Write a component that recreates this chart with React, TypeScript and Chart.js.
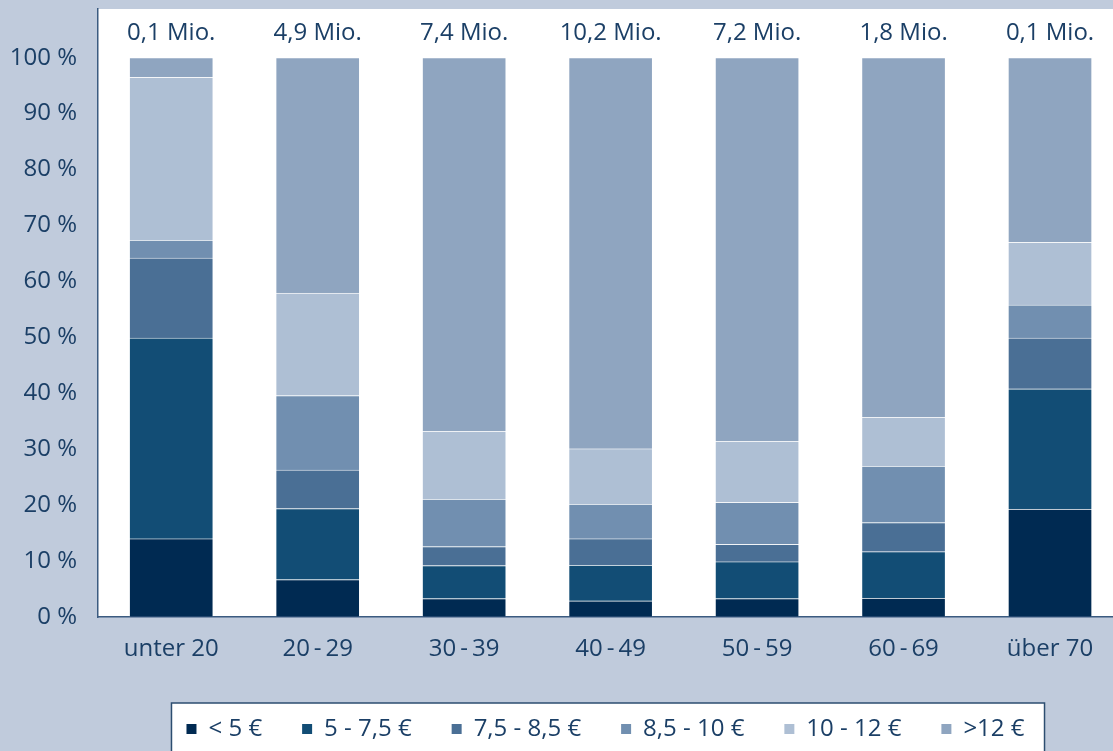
import { useEffect, useRef } from "react";
import { Chart, registerables } from "chart.js";

Chart.register(...registerables);

const categories = ["unter 20", "20\u2009-\u200929", "30\u2009-\u200939", "40\u2009-\u200949", "50\u2009-\u200959", "60\u2009-\u200969", "über 70"];
const totals = ["0,1 Mio.", "4,9 Mio.", "7,4 Mio.", "10,2 Mio.", "7,2 Mio.", "1,8 Mio.", "0,1 Mio."];
const seriesNames = ["< 5 €", "5 - 7,5 €", "7,5 - 8,5 €", "8,5 - 10 €", "10 - 12 €", ">12 €"];

const under5 = [14.0, 6.7, 3.3, 2.9, 3.3, 3.4, 19.3];
const from5to75 = [35.9, 12.7, 5.9, 6.4, 6.6, 8.3, 21.5];
const from75to85 = [14.3, 6.9, 3.4, 4.7, 3.1, 5.2, 9.1];
const from85to10 = [3.2, 13.3, 8.5, 6.2, 7.5, 10.1, 5.9];
const from10to12 = [29.1, 18.3, 12.1, 9.9, 10.9, 8.7, 11.2];
const over12 = [3.5, 42.1, 66.8, 69.9, 68.6, 64.3, 33.0];

const yTicks = [0, 10, 20, 30, 40, 50, 60, 70, 80, 90, 100];

const seriesValues = [under5, from5to75, from75to85, from85to10, from10to12, over12];
const seriesColors = ["#002a52", "#124d75", "#4a6f95", "#718fb0", "#aebfd4", "#8fa5c0"];

const TEXT = "#1b3f66";
const AXIS = "#3b5b80";
const FONT = "'Open Sans', 'Noto Sans', sans-serif";
const FS = 24;

export default function App() {
  const ref = useRef<HTMLCanvasElement | null>(null);

  useEffect(() => {
    if (!ref.current) return;

    const backgroundPlugin = {
      id: "bgPlugin",
      beforeDraw(chart: any) {
        const { ctx, chartArea } = chart;
        ctx.save();
        ctx.fillStyle = "#ffffff";
        ctx.fillRect(chartArea.left, chartArea.top, chartArea.right - chartArea.left, chartArea.bottom - chartArea.top);
        const boxes = chart.legend?.legendHitBoxes || [];
        if (boxes.length) {
          let minL = Infinity;
          let maxR = -Infinity;
          let top = Infinity;
          boxes.forEach((b: any) => {
            minL = Math.min(minL, b.left);
            maxR = Math.max(maxR, b.left + b.width);
            top = Math.min(top, b.top);
          });
          const x0 = minL - 15;
          const x1 = maxR + 20;
          const y0 = top - 14;
          const y1 = chart.height + 2;
          ctx.fillStyle = "#ffffff";
          ctx.fillRect(x0, y0, x1 - x0, y1 - y0);
          ctx.strokeStyle = "#2c4d70";
          ctx.lineWidth = 1.5;
          ctx.strokeRect(x0, y0, x1 - x0, y1 - y0);
        }
        ctx.restore();
      },
    };

    const totalsPlugin = {
      id: "totalsPlugin",
      afterDatasetsDraw(chart: any) {
        const { ctx } = chart;
        const xs = chart.scales.x;
        const ys = chart.scales.y;
        ctx.save();
        ctx.fillStyle = TEXT;
        ctx.font = `${FS}px ${FONT}`;
        ctx.textAlign = "center";
        ctx.textBaseline = "middle";
        totals.forEach((t, i) => {
          ctx.fillText(t, xs.getPixelForValue(i), ys.getPixelForValue(104.4));
        });
        ctx.restore();
      },
    };

    const chart = new Chart(ref.current, {
      type: "bar",
      data: {
        datasets: seriesNames.map((name, s) => ({
          label: name,
          data: seriesValues[s].map((v, i) => ({ x: i, y: v })),
          backgroundColor: seriesColors[s],
          borderColor: "rgba(255,255,255,0.22)",
          borderWidth: 1,
          barThickness: 84,
        })),
      },
      options: {
        animation: false,
        responsive: true,
        maintainAspectRatio: false,
        layout: { padding: { top: 9, left: 0, right: 0, bottom: 0 } },
        scales: {
          x: {
            type: "linear",
            stacked: true,
            offset: false,
            min: -0.5,
            max: 6.43,
            afterBuildTicks(scale: any) {
              scale.ticks = categories.map((_, i) => ({ value: i }));
            },
            afterFit(scale: any) {
              scale.height = 60;
              scale.paddingLeft = 0;
              scale.paddingRight = 0;
            },
            grid: { display: true, offset: false, drawOnChartArea: false, drawTicks: false, color: "rgba(0,0,0,0)" },
            border: { display: true, color: AXIS, width: 1.5 },
            ticks: {
              padding: 18,
              color: TEXT,
              font: { family: FONT, size: FS },
              maxRotation: 0,
              autoSkip: false,
              callback: (v: any) => categories[Math.round(Number(v))] ?? "",
            },
          },
          y: {
            type: "linear",
            stacked: true,
            min: 0,
            max: 108.7,
            afterBuildTicks(scale: any) {
              scale.ticks = yTicks.map((v) => ({ value: v }));
            },
            afterFit(scale: any) {
              scale.width = 98;
              scale.paddingTop = 0;
              scale.paddingBottom = 0;
            },
            grid: { display: true, drawOnChartArea: false, drawTicks: false, color: "rgba(0,0,0,0)" },
            border: { display: true, color: AXIS, width: 1.5 },
            ticks: {
              padding: 21,
              color: TEXT,
              font: { family: FONT, size: FS },
              callback: (v: any) => `${v} %`,
            },
          },
        },
        plugins: {
          tooltip: { enabled: false },
          legend: {
            position: "bottom",
            fullSize: false,
            labels: {
              boxWidth: 10,
              boxHeight: 10,
              padding: 40,
              color: TEXT,
              font: { family: FONT, size: FS },
              generateLabels: (c: any) =>
                (Chart.defaults.plugins.legend.labels as any).generateLabels(c).map((l: any) => ({
                  ...l,
                  lineWidth: 0,
                  strokeStyle: "rgba(0,0,0,0)",
                })),
            },
          },
        },
      },
      plugins: [backgroundPlugin, totalsPlugin],
    } as any);

    return () => chart.destroy();
  }, []);

  return (
    <div style={{ position: "fixed", left: 0, top: 0, width: 1113, height: 751, background: "#c0cbdc" }}>
      <canvas ref={ref} />
    </div>
  );
}
